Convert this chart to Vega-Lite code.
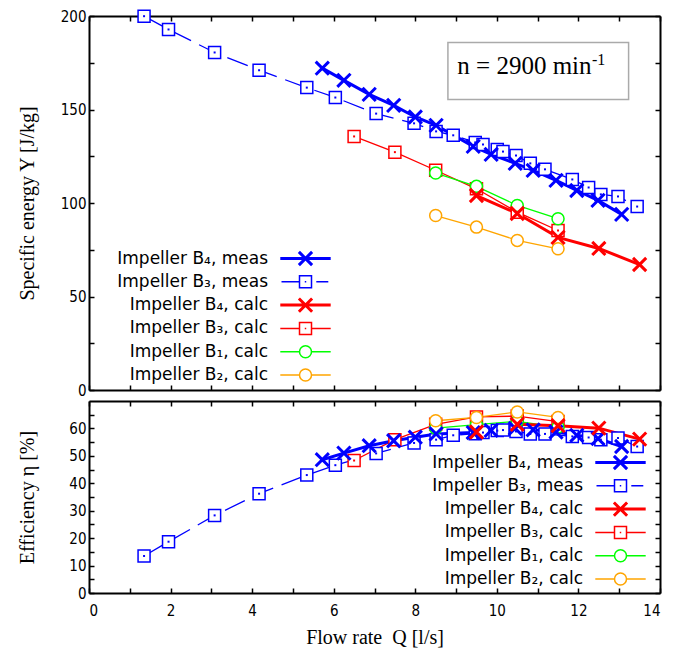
{
  "$schema": "https://vega.github.io/schema/vega-lite/v6.json",
  "padding": {"left": 16, "top": 7, "right": 5, "bottom": 5},
  "bounds": "flush",
  "spacing": 11,
  "config": {
    "view": {"stroke": null},
    "axis": {"domainColor": "black", "domainWidth": 2, "tickColor": "black", "tickWidth": 1.5, "tickSize": -5, "labelFont": "DejaVu Sans Condensed", "labelFontSize": 15, "labelColor": "black", "titleFont": "Liberation Serif", "titleFontSize": 20, "titleFontWeight": "normal", "titleColor": "black", "grid": false, "labelPadding": 8}
  },
  "datasets": {
    "d": [
      {"s": "Impeller B₄, meas", "Q": 5.72, "Y": 172.1, "eta": 48.6},
      {"s": "Impeller B₄, meas", "Q": 6.25, "Y": 165.6, "eta": 51.0},
      {"s": "Impeller B₄, meas", "Q": 6.87, "Y": 158.1, "eta": 53.7},
      {"s": "Impeller B₄, meas", "Q": 7.47, "Y": 152.2, "eta": 55.5},
      {"s": "Impeller B₄, meas", "Q": 8.0, "Y": 146.0, "eta": 56.8},
      {"s": "Impeller B₄, meas", "Q": 8.51, "Y": 141.5, "eta": 58.0},
      {"s": "Impeller B₄, meas", "Q": 9.42, "Y": 130.3, "eta": 58.5},
      {"s": "Impeller B₄, meas", "Q": 9.86, "Y": 126.0, "eta": 59.3},
      {"s": "Impeller B₄, meas", "Q": 10.45, "Y": 121.2, "eta": 60.0},
      {"s": "Impeller B₄, meas", "Q": 10.89, "Y": 117.4, "eta": 59.5},
      {"s": "Impeller B₄, meas", "Q": 11.45, "Y": 112.1, "eta": 58.7},
      {"s": "Impeller B₄, meas", "Q": 11.96, "Y": 106.7, "eta": 57.5},
      {"s": "Impeller B₄, meas", "Q": 12.48, "Y": 101.4, "eta": 56.3},
      {"s": "Impeller B₄, meas", "Q": 13.06, "Y": 93.9, "eta": 53.4},
      {"s": "Impeller B₃, meas", "Q": 1.35, "Y": 199.9, "eta": 13.5},
      {"s": "Impeller B₃, meas", "Q": 1.95, "Y": 192.8, "eta": 18.7},
      {"s": "Impeller B₃, meas", "Q": 3.08, "Y": 180.5, "eta": 28.3},
      {"s": "Impeller B₃, meas", "Q": 4.17, "Y": 171.0, "eta": 36.2},
      {"s": "Impeller B₃, meas", "Q": 5.34, "Y": 161.7, "eta": 43.0},
      {"s": "Impeller B₃, meas", "Q": 6.04, "Y": 156.4, "eta": 46.6},
      {"s": "Impeller B₃, meas", "Q": 7.04, "Y": 147.8, "eta": 50.9},
      {"s": "Impeller B₃, meas", "Q": 7.97, "Y": 142.6, "eta": 54.7},
      {"s": "Impeller B₃, meas", "Q": 8.51, "Y": 138.3, "eta": 55.9},
      {"s": "Impeller B₃, meas", "Q": 8.93, "Y": 136.2, "eta": 57.5},
      {"s": "Impeller B₃, meas", "Q": 9.47, "Y": 132.4, "eta": 58.1},
      {"s": "Impeller B₃, meas", "Q": 9.66, "Y": 131.3, "eta": 58.5},
      {"s": "Impeller B₃, meas", "Q": 10.01, "Y": 128.6, "eta": 59.2},
      {"s": "Impeller B₃, meas", "Q": 10.15, "Y": 127.5, "eta": 59.4},
      {"s": "Impeller B₃, meas", "Q": 10.47, "Y": 125.4, "eta": 58.9},
      {"s": "Impeller B₃, meas", "Q": 10.82, "Y": 121.2, "eta": 58.0},
      {"s": "Impeller B₃, meas", "Q": 11.18, "Y": 118.0, "eta": 58.0},
      {"s": "Impeller B₃, meas", "Q": 11.85, "Y": 112.6, "eta": 57.1},
      {"s": "Impeller B₃, meas", "Q": 12.25, "Y": 108.3, "eta": 56.7},
      {"s": "Impeller B₃, meas", "Q": 12.55, "Y": 104.6, "eta": 55.9},
      {"s": "Impeller B₃, meas", "Q": 12.97, "Y": 103.5, "eta": 56.5},
      {"s": "Impeller B₃, meas", "Q": 13.44, "Y": 98.1, "eta": 53.4},
      {"s": "Impeller B₄, calc", "Q": 9.5, "Y": 104.0, "eta": 58.7},
      {"s": "Impeller B₄, calc", "Q": 10.5, "Y": 94.4, "eta": 61.5},
      {"s": "Impeller B₄, calc", "Q": 11.5, "Y": 81.6, "eta": 61.0},
      {"s": "Impeller B₄, calc", "Q": 12.5, "Y": 75.7, "eta": 60.1},
      {"s": "Impeller B₄, calc", "Q": 13.5, "Y": 67.1, "eta": 56.1},
      {"s": "Impeller B₃, calc", "Q": 6.5, "Y": 135.6, "eta": 48.3},
      {"s": "Impeller B₃, calc", "Q": 7.5, "Y": 127.2, "eta": 55.9},
      {"s": "Impeller B₃, calc", "Q": 8.5, "Y": 117.5, "eta": 61.5},
      {"s": "Impeller B₃, calc", "Q": 9.5, "Y": 107.6, "eta": 64.2},
      {"s": "Impeller B₃, calc", "Q": 10.5, "Y": 95.1, "eta": 64.5},
      {"s": "Impeller B₃, calc", "Q": 11.5, "Y": 85.3, "eta": 62.5},
      {"s": "Impeller B₁, calc", "Q": 8.5, "Y": 116.0, "eta": 60.1},
      {"s": "Impeller B₁, calc", "Q": 9.5, "Y": 108.9, "eta": 61.4},
      {"s": "Impeller B₁, calc", "Q": 10.5, "Y": 98.7, "eta": 62.6},
      {"s": "Impeller B₁, calc", "Q": 11.5, "Y": 91.6, "eta": 60.5},
      {"s": "Impeller B₂, calc", "Q": 8.5, "Y": 93.3, "eta": 62.8},
      {"s": "Impeller B₂, calc", "Q": 9.5, "Y": 87.1, "eta": 64.0},
      {"s": "Impeller B₂, calc", "Q": 10.5, "Y": 80.0, "eta": 66.0},
      {"s": "Impeller B₂, calc", "Q": 11.5, "Y": 75.5, "eta": 64.0}
    ]
  },
  "resolve": {"scale": {"color": "independent"}, "legend": {"color": "independent"}},
  "vconcat": [
    {
      "width": 571,
      "height": 374,
      "data": {"name": "d"},
      "resolve": {"axis": {"x": "independent", "y": "independent"}, "scale": {"color": "independent"}, "legend": {"color": "independent"}},
      "layer": [
        {
          "transform": [{"filter": {"field": "s", "oneOf": ["Impeller B₃, calc", "Impeller B₁, calc", "Impeller B₂, calc"]}}],
          "mark": {"type": "line", "strokeWidth": 1.3},
          "encoding": {
            "x": {"field": "Q", "type": "quantitative", "scale": {"domain": [0, 14]}, "axis": {"orient": "bottom", "values": [0,1,2,3,4,5,6,7,8,9,10,11,12,13,14], "labels": false, "title": null}},
            "y": {"field": "Y", "type": "quantitative", "scale": {"domain": [0, 200]}, "axis": {"orient": "left", "values": [0,25,50,75,100,125,150,175,200], "labelExpr": "datum.value % 50 === 0 ? datum.label : ''", "title": "Specific energy Y [J/kg]", "titleX": -62, "titleBaseline": "middle"}},
            "color": {"field": "s", "type": "nominal", "scale": {"domain": ["Impeller B₃, calc", "Impeller B₁, calc", "Impeller B₂, calc"], "range": ["#ff0000", "#00ff00", "#ffa500"]}, "legend": null}
          }
        },
        {
          "transform": [{"filter": {"field": "s", "equal": "Impeller B₃, meas"}}],
          "mark": {"type": "line", "strokeWidth": 1.3, "strokeDash": [22, 9], "color": "#0000ff"},
          "encoding": {
            "x": {"field": "Q", "type": "quantitative", "axis": null},
            "y": {"field": "Y", "type": "quantitative", "axis": null}
          }
        },
        {
          "transform": [{"filter": {"field": "s", "oneOf": ["Impeller B₄, meas", "Impeller B₄, calc"]}}],
          "mark": {"type": "line", "strokeWidth": 3},
          "encoding": {
            "x": {"field": "Q", "type": "quantitative", "axis": null},
            "y": {"field": "Y", "type": "quantitative", "axis": null},
            "color": {"field": "s", "type": "nominal", "scale": {"domain": ["Impeller B₄, meas", "Impeller B₄, calc"], "range": ["#0000ff", "#ff0000"]}, "legend": null}
          }
        },
        {
          "transform": [{"filter": {"field": "s", "equal": "Impeller B₃, meas"}}],
          "mark": {"type": "point", "shape": "square", "size": 144, "strokeWidth": 1.5, "fill": "white", "filled": false, "opacity": 1},
          "encoding": {
            "x": {"field": "Q", "type": "quantitative", "axis": {"orient": "top", "values": [0,1,2,3,4,5,6,7,8,9,10,11,12,13,14], "labels": false, "title": null}},
            "y": {"field": "Y", "type": "quantitative", "axis": {"orient": "right", "values": [0,25,50,75,100,125,150,175,200], "labels": false, "title": null}},
            "color": {"field": "s", "type": "nominal", "scale": {"domain": ["Impeller B₃, meas"], "range": ["#0000ff"]},
              "legend": {"orient": "none", "legendX": 208, "legendY": 257.3, "title": null, "padding": 0, "labelFont": "DejaVu Sans", "labelFontSize": 17, "labelColor": "black", "labelAlign": "right", "labelOffset": -46, "labelLimit": 400, "symbolSize": 144, "symbolStrokeWidth": 1.5, "symbolFillColor": "transparent",
                "symbolType": "M-4,0H-1M-1,-1H1V1H-1ZM1.8,0H3.8M-0.12,0H0.12"}}
          }
        },
        {
          "transform": [{"filter": {"field": "s", "equal": "Impeller B₃, calc"}}],
          "mark": {"type": "point", "shape": "square", "size": 144, "strokeWidth": 1.5, "fill": "white", "filled": false, "opacity": 1},
          "encoding": {
            "x": {"field": "Q", "type": "quantitative", "axis": null},
            "y": {"field": "Y", "type": "quantitative", "axis": null},
            "color": {"field": "s", "type": "nominal", "scale": {"domain": ["Impeller B₃, calc"], "range": ["#ff0000"]},
              "legend": {"orient": "none", "legendX": 208, "legendY": 303.9, "title": null, "padding": 0, "labelFont": "DejaVu Sans", "labelFontSize": 17, "labelColor": "black", "labelAlign": "right", "labelOffset": -46, "labelLimit": 400, "symbolSize": 144, "symbolStrokeWidth": 1.5, "symbolFillColor": "transparent",
                "symbolType": "M-4.2,0H-1M1,0H4.2M-1,-1H1V1H-1ZM-0.12,0H0.12"}}
          }
        },
        {
          "transform": [{"filter": {"field": "s", "oneOf": ["Impeller B₃, meas", "Impeller B₃, calc"]}}],
          "mark": {"type": "point", "shape": "square", "size": 4, "filled": true, "opacity": 1},
          "encoding": {
            "x": {"field": "Q", "type": "quantitative", "axis": null},
            "y": {"field": "Y", "type": "quantitative", "axis": null},
            "color": {"field": "s", "type": "nominal", "scale": {"domain": ["Impeller B₃, meas", "Impeller B₃, calc"], "range": ["#0000ff", "#ff0000"]}, "legend": null}
          }
        },
        {
          "transform": [{"filter": {"field": "s", "equal": "Impeller B₁, calc"}}],
          "mark": {"type": "point", "shape": "circle", "size": 144, "strokeWidth": 1.5, "fill": "white", "filled": false, "opacity": 1},
          "encoding": {
            "x": {"field": "Q", "type": "quantitative", "axis": null},
            "y": {"field": "Y", "type": "quantitative", "axis": null},
            "color": {"field": "s", "type": "nominal", "scale": {"domain": ["Impeller B₁, calc"], "range": ["#00ff00"]},
              "legend": {"orient": "none", "legendX": 208, "legendY": 327.2, "title": null, "padding": 0, "labelFont": "DejaVu Sans", "labelFontSize": 17, "labelColor": "black", "labelAlign": "right", "labelOffset": -46, "labelLimit": 400, "symbolSize": 144, "symbolStrokeWidth": 1.5, "symbolFillColor": "transparent",
                "symbolType": "M-4.2,0H-1M1,0H4.2M1,0C1,0.55,0.55,1,0,1C-0.55,1,-1,0.55,-1,0C-1,-0.55,-0.55,-1,0,-1C0.55,-1,1,-0.55,1,0Z"}}
          }
        },
        {
          "transform": [{"filter": {"field": "s", "equal": "Impeller B₂, calc"}}],
          "mark": {"type": "point", "shape": "circle", "size": 144, "strokeWidth": 1.5, "fill": "white", "filled": false, "opacity": 1},
          "encoding": {
            "x": {"field": "Q", "type": "quantitative", "axis": null},
            "y": {"field": "Y", "type": "quantitative", "axis": null},
            "color": {"field": "s", "type": "nominal", "scale": {"domain": ["Impeller B₂, calc"], "range": ["#ffa500"]},
              "legend": {"orient": "none", "legendX": 208, "legendY": 350.5, "title": null, "padding": 0, "labelFont": "DejaVu Sans", "labelFontSize": 17, "labelColor": "black", "labelAlign": "right", "labelOffset": -46, "labelLimit": 400, "symbolSize": 144, "symbolStrokeWidth": 1.5, "symbolFillColor": "transparent",
                "symbolType": "M-4.2,0H-1M1,0H4.2M1,0C1,0.55,0.55,1,0,1C-0.55,1,-1,0.55,-1,0C-1,-0.55,-0.55,-1,0,-1C0.55,-1,1,-0.55,1,0Z"}}
          }
        },
        {
          "transform": [{"filter": {"field": "s", "equal": "Impeller B₄, meas"}}],
          "mark": {"type": "point", "shape": "M-1.1,-1.1L1.1,1.1M-1.1,1.1L1.1,-1.1", "size": 144, "strokeWidth": 3, "filled": false, "opacity": 1},
          "encoding": {
            "x": {"field": "Q", "type": "quantitative", "axis": null},
            "y": {"field": "Y", "type": "quantitative", "axis": null},
            "color": {"field": "s", "type": "nominal", "scale": {"domain": ["Impeller B₄, meas"], "range": ["#0000ff"]},
              "legend": {"orient": "none", "legendX": 208, "legendY": 234, "title": null, "padding": 0, "labelFont": "DejaVu Sans", "labelFontSize": 17, "labelColor": "black", "labelAlign": "right", "labelOffset": -46, "labelLimit": 400, "symbolSize": 144, "symbolStrokeWidth": 3, "symbolFillColor": "transparent",
                "symbolType": "M-4.2,0H4.2M-1.1,-1.1L1.1,1.1M-1.1,1.1L1.1,-1.1"}}
          }
        },
        {
          "transform": [{"filter": {"field": "s", "equal": "Impeller B₄, calc"}}],
          "mark": {"type": "point", "shape": "M-1.1,-1.1L1.1,1.1M-1.1,1.1L1.1,-1.1", "size": 144, "strokeWidth": 3, "filled": false, "opacity": 1},
          "encoding": {
            "x": {"field": "Q", "type": "quantitative", "axis": null},
            "y": {"field": "Y", "type": "quantitative", "axis": null},
            "color": {"field": "s", "type": "nominal", "scale": {"domain": ["Impeller B₄, calc"], "range": ["#ff0000"]},
              "legend": {"orient": "none", "legendX": 208, "legendY": 280.6, "title": null, "padding": 0, "labelFont": "DejaVu Sans", "labelFontSize": 17, "labelColor": "black", "labelAlign": "right", "labelOffset": -46, "labelLimit": 400, "symbolSize": 144, "symbolStrokeWidth": 3, "symbolFillColor": "transparent",
                "symbolType": "M-4.2,0H4.2M-1.1,-1.1L1.1,1.1M-1.1,1.1L1.1,-1.1"}}
          }
        },
        {
          "data": {"values": [{}]},
          "mark": {"type": "rect", "fill": "white", "stroke": "#aaaaaa", "strokeWidth": 1.5},
          "encoding": {
            "x": {"datum": 8.8, "type": "quantitative", "axis": null},
            "x2": {"datum": 13.23},
            "y": {"datum": 185.8, "type": "quantitative", "axis": null},
            "y2": {"datum": 155.4}
          }
        },
        {
          "data": {"values": [{}]},
          "mark": {"type": "text", "text": "n = 2900 min", "font": "Liberation Serif", "fontSize": 25, "align": "left", "baseline": "alphabetic", "color": "black"},
          "encoding": {
            "x": {"datum": 9.03, "type": "quantitative", "axis": null},
            "y": {"datum": 168.8, "type": "quantitative", "axis": null}
          }
        },
        {
          "data": {"values": [{}]},
          "mark": {"type": "text", "text": "-1", "font": "Liberation Serif", "fontSize": 16, "align": "left", "baseline": "alphabetic", "color": "black"},
          "encoding": {
            "x": {"datum": 12.33, "type": "quantitative", "axis": null},
            "y": {"datum": 173.7, "type": "quantitative", "axis": null}
          }
        }
      ]
    },
    {
      "width": 571,
      "height": 192,
      "data": {"name": "d"},
      "resolve": {"axis": {"x": "independent", "y": "independent"}, "scale": {"color": "independent"}, "legend": {"color": "independent"}},
      "layer": [
        {
          "transform": [{"filter": {"field": "s", "oneOf": ["Impeller B₃, calc", "Impeller B₁, calc", "Impeller B₂, calc"]}}],
          "mark": {"type": "line", "strokeWidth": 1.3},
          "encoding": {
            "x": {"field": "Q", "type": "quantitative", "scale": {"domain": [0, 14]}, "axis": {"orient": "bottom", "values": [0,1,2,3,4,5,6,7,8,9,10,11,12,13,14], "labelExpr": "datum.value % 2 === 0 ? datum.label : ''", "title": "Flow rate\u00a0 Q [l/s]", "labelPadding": 15, "titlePadding": 9}},
            "y": {"field": "eta", "type": "quantitative", "scale": {"domain": [0, 70]}, "axis": {"orient": "left", "values": [0,5,10,15,20,25,30,35,40,45,50,55,60,65], "labelExpr": "datum.value % 10 === 0 ? datum.label : ''", "title": "Efficiency η [%]", "titleX": -62, "titleBaseline": "middle"}},
            "color": {"field": "s", "type": "nominal", "scale": {"domain": ["Impeller B₃, calc", "Impeller B₁, calc", "Impeller B₂, calc"], "range": ["#ff0000", "#00ff00", "#ffa500"]}, "legend": null}
          }
        },
        {
          "transform": [{"filter": {"field": "s", "equal": "Impeller B₃, meas"}}],
          "mark": {"type": "line", "strokeWidth": 1.3, "strokeDash": [22, 9], "color": "#0000ff"},
          "encoding": {
            "x": {"field": "Q", "type": "quantitative", "axis": null},
            "y": {"field": "eta", "type": "quantitative", "axis": null}
          }
        },
        {
          "transform": [{"filter": {"field": "s", "oneOf": ["Impeller B₄, meas", "Impeller B₄, calc"]}}],
          "mark": {"type": "line", "strokeWidth": 3},
          "encoding": {
            "x": {"field": "Q", "type": "quantitative", "axis": null},
            "y": {"field": "eta", "type": "quantitative", "axis": null},
            "color": {"field": "s", "type": "nominal", "scale": {"domain": ["Impeller B₄, meas", "Impeller B₄, calc"], "range": ["#0000ff", "#ff0000"]}, "legend": null}
          }
        },
        {
          "transform": [{"filter": {"field": "s", "equal": "Impeller B₃, meas"}}],
          "mark": {"type": "point", "shape": "square", "size": 144, "strokeWidth": 1.5, "fill": "white", "filled": false, "opacity": 1},
          "encoding": {
            "x": {"field": "Q", "type": "quantitative", "axis": {"orient": "top", "values": [0,1,2,3,4,5,6,7,8,9,10,11,12,13,14], "labels": false, "title": null}},
            "y": {"field": "eta", "type": "quantitative", "axis": {"orient": "right", "values": [0,5,10,15,20,25,30,35,40,45,50,55,60,65], "labels": false, "title": null}},
            "color": {"field": "s", "type": "nominal", "scale": {"domain": ["Impeller B₃, meas"], "range": ["#0000ff"]},
              "legend": {"orient": "none", "legendX": 523, "legendY": 76.3, "title": null, "padding": 0, "labelFont": "DejaVu Sans", "labelFontSize": 17, "labelColor": "black", "labelAlign": "right", "labelOffset": -46, "labelLimit": 400, "symbolSize": 144, "symbolStrokeWidth": 1.5, "symbolFillColor": "transparent",
                "symbolType": "M-4,0H-1M-1,-1H1V1H-1ZM1.8,0H3.8M-0.12,0H0.12"}}
          }
        },
        {
          "transform": [{"filter": {"field": "s", "equal": "Impeller B₃, calc"}}],
          "mark": {"type": "point", "shape": "square", "size": 144, "strokeWidth": 1.5, "fill": "white", "filled": false, "opacity": 1},
          "encoding": {
            "x": {"field": "Q", "type": "quantitative", "axis": null},
            "y": {"field": "eta", "type": "quantitative", "axis": null},
            "color": {"field": "s", "type": "nominal", "scale": {"domain": ["Impeller B₃, calc"], "range": ["#ff0000"]},
              "legend": {"orient": "none", "legendX": 523, "legendY": 122.9, "title": null, "padding": 0, "labelFont": "DejaVu Sans", "labelFontSize": 17, "labelColor": "black", "labelAlign": "right", "labelOffset": -46, "labelLimit": 400, "symbolSize": 144, "symbolStrokeWidth": 1.5, "symbolFillColor": "transparent",
                "symbolType": "M-4.2,0H-1M1,0H4.2M-1,-1H1V1H-1ZM-0.12,0H0.12"}}
          }
        },
        {
          "transform": [{"filter": {"field": "s", "oneOf": ["Impeller B₃, meas", "Impeller B₃, calc"]}}],
          "mark": {"type": "point", "shape": "square", "size": 4, "filled": true, "opacity": 1},
          "encoding": {
            "x": {"field": "Q", "type": "quantitative", "axis": null},
            "y": {"field": "eta", "type": "quantitative", "axis": null},
            "color": {"field": "s", "type": "nominal", "scale": {"domain": ["Impeller B₃, meas", "Impeller B₃, calc"], "range": ["#0000ff", "#ff0000"]}, "legend": null}
          }
        },
        {
          "transform": [{"filter": {"field": "s", "equal": "Impeller B₁, calc"}}],
          "mark": {"type": "point", "shape": "circle", "size": 144, "strokeWidth": 1.5, "fill": "white", "filled": false, "opacity": 1},
          "encoding": {
            "x": {"field": "Q", "type": "quantitative", "axis": null},
            "y": {"field": "eta", "type": "quantitative", "axis": null},
            "color": {"field": "s", "type": "nominal", "scale": {"domain": ["Impeller B₁, calc"], "range": ["#00ff00"]},
              "legend": {"orient": "none", "legendX": 523, "legendY": 146.2, "title": null, "padding": 0, "labelFont": "DejaVu Sans", "labelFontSize": 17, "labelColor": "black", "labelAlign": "right", "labelOffset": -46, "labelLimit": 400, "symbolSize": 144, "symbolStrokeWidth": 1.5, "symbolFillColor": "transparent",
                "symbolType": "M-4.2,0H-1M1,0H4.2M1,0C1,0.55,0.55,1,0,1C-0.55,1,-1,0.55,-1,0C-1,-0.55,-0.55,-1,0,-1C0.55,-1,1,-0.55,1,0Z"}}
          }
        },
        {
          "transform": [{"filter": {"field": "s", "equal": "Impeller B₂, calc"}}],
          "mark": {"type": "point", "shape": "circle", "size": 144, "strokeWidth": 1.5, "fill": "white", "filled": false, "opacity": 1},
          "encoding": {
            "x": {"field": "Q", "type": "quantitative", "axis": null},
            "y": {"field": "eta", "type": "quantitative", "axis": null},
            "color": {"field": "s", "type": "nominal", "scale": {"domain": ["Impeller B₂, calc"], "range": ["#ffa500"]},
              "legend": {"orient": "none", "legendX": 523, "legendY": 169.5, "title": null, "padding": 0, "labelFont": "DejaVu Sans", "labelFontSize": 17, "labelColor": "black", "labelAlign": "right", "labelOffset": -46, "labelLimit": 400, "symbolSize": 144, "symbolStrokeWidth": 1.5, "symbolFillColor": "transparent",
                "symbolType": "M-4.2,0H-1M1,0H4.2M1,0C1,0.55,0.55,1,0,1C-0.55,1,-1,0.55,-1,0C-1,-0.55,-0.55,-1,0,-1C0.55,-1,1,-0.55,1,0Z"}}
          }
        },
        {
          "transform": [{"filter": {"field": "s", "equal": "Impeller B₄, meas"}}],
          "mark": {"type": "point", "shape": "M-1.1,-1.1L1.1,1.1M-1.1,1.1L1.1,-1.1", "size": 144, "strokeWidth": 3, "filled": false, "opacity": 1},
          "encoding": {
            "x": {"field": "Q", "type": "quantitative", "axis": null},
            "y": {"field": "eta", "type": "quantitative", "axis": null},
            "color": {"field": "s", "type": "nominal", "scale": {"domain": ["Impeller B₄, meas"], "range": ["#0000ff"]},
              "legend": {"orient": "none", "legendX": 523, "legendY": 53, "title": null, "padding": 0, "labelFont": "DejaVu Sans", "labelFontSize": 17, "labelColor": "black", "labelAlign": "right", "labelOffset": -46, "labelLimit": 400, "symbolSize": 144, "symbolStrokeWidth": 3, "symbolFillColor": "transparent",
                "symbolType": "M-4.2,0H4.2M-1.1,-1.1L1.1,1.1M-1.1,1.1L1.1,-1.1"}}
          }
        },
        {
          "transform": [{"filter": {"field": "s", "equal": "Impeller B₄, calc"}}],
          "mark": {"type": "point", "shape": "M-1.1,-1.1L1.1,1.1M-1.1,1.1L1.1,-1.1", "size": 144, "strokeWidth": 3, "filled": false, "opacity": 1},
          "encoding": {
            "x": {"field": "Q", "type": "quantitative", "axis": null},
            "y": {"field": "eta", "type": "quantitative", "axis": null},
            "color": {"field": "s", "type": "nominal", "scale": {"domain": ["Impeller B₄, calc"], "range": ["#ff0000"]},
              "legend": {"orient": "none", "legendX": 523, "legendY": 99.6, "title": null, "padding": 0, "labelFont": "DejaVu Sans", "labelFontSize": 17, "labelColor": "black", "labelAlign": "right", "labelOffset": -46, "labelLimit": 400, "symbolSize": 144, "symbolStrokeWidth": 3, "symbolFillColor": "transparent",
                "symbolType": "M-4.2,0H4.2M-1.1,-1.1L1.1,1.1M-1.1,1.1L1.1,-1.1"}}
          }
        }
      ]
    }
  ]
}
